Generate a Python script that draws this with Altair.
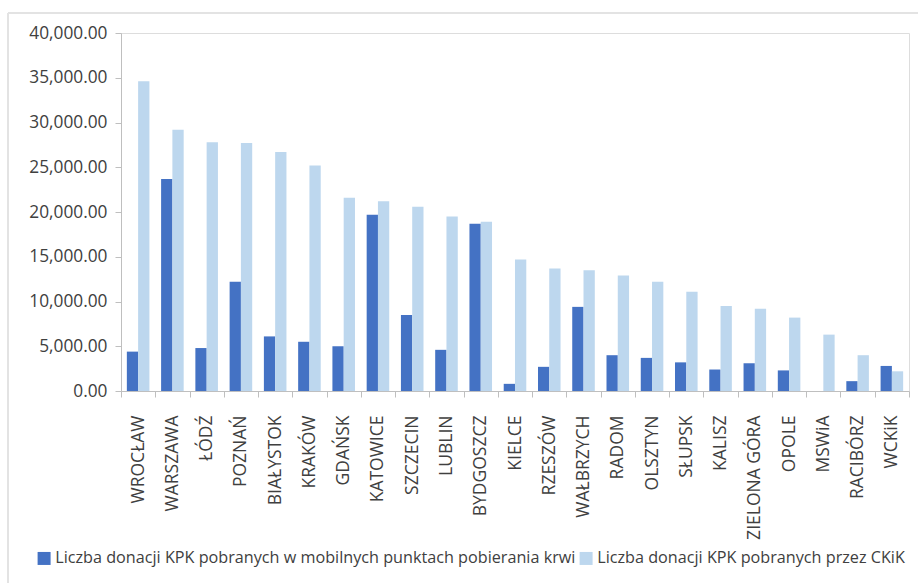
import altair as alt
import pandas as pd

# Regional blood centres, in display order
cities = [
    "WROCŁAW", "WARSZAWA", "ŁÓDŹ", "POZNAŃ", "BIAŁYSTOK", "KRAKÓW", "GDAŃSK",
    "KATOWICE", "SZCZECIN", "LUBLIN", "BYDGOSZCZ", "KIELCE", "RZESZÓW",
    "WAŁBRZYCH", "RADOM", "OLSZTYN", "SŁUPSK", "KALISZ", "ZIELONA GÓRA",
    "OPOLE", "MSWiA", "RACIBÓRZ", "WCKiK",
]

# Platelet (KPK) donations collected at mobile collection points
mobile = [
    4400, 23700, 4800, 12200, 6100, 5500, 5000, 19700, 8500, 4600, 18700,
    800, 2700, 9400, 4000, 3700, 3200, 2400, 3100, 2300, 0, 1100, 2800,
]

# Platelet (KPK) donations collected by the blood centre overall
centre = [
    34600, 29200, 27800, 27700, 26700, 25200, 21600, 21200, 20600, 19500,
    18900, 14700, 13700, 13500, 12900, 12200, 11100, 9500, 9200, 8200,
    6300, 4000, 2200,
]

series_names = [
    "Liczba donacji KPK pobranych w mobilnych punktach pobierania krwi",
    "Liczba donacji KPK pobranych przez CKiK",
]
series_colors = ["#4472C4", "#BDD7EE"]

rows = []
for city, m, c in zip(cities, mobile, centre):
    rows.append({"miasto": city, "seria": series_names[0], "wartosc": m})
    rows.append({"miasto": city, "seria": series_names[1], "wartosc": c})
df = pd.DataFrame(rows)

FONT = "Open Sans"
TEXT = "#404040"
AXIS = "#BFBFBF"

bars = alt.Chart(df).mark_bar(size=11.3).encode(
    x=alt.X(
        "miasto:N",
        sort=cities,
        scale=alt.Scale(paddingInner=0, paddingOuter=0),
        axis=alt.Axis(
            title=None,
            labelAngle=-90,
            labelAlign="right",
            labelBaseline="middle",
            labelFont=FONT,
            labelFontSize=17.5,
            labelColor=TEXT,
            labelPadding=18,
            tickBand="extent",
            tickSize=6,
            tickColor=AXIS,
            domainColor=AXIS,
            labelOverlap=False,
        ),
    ),
    xOffset=alt.XOffset(
        "seria:N",
        sort=series_names,
        scale=alt.Scale(paddingOuter=0.52, paddingInner=0),
    ),
    y=alt.Y(
        "wartosc:Q",
        scale=alt.Scale(domain=[0, 40000], nice=False),
        axis=alt.Axis(
            title=None,
            format=",.2f",
            values=list(range(0, 40001, 5000)),
            grid=False,
            labelFont=FONT,
            labelFontSize=17.3,
            labelColor=TEXT,
            labelPadding=8,
            tickSize=6,
            tickColor=AXIS,
            domainColor=AXIS,
        ),
    ),
    color=alt.Color(
        "seria:N",
        sort=series_names,
        scale=alt.Scale(domain=series_names, range=series_colors),
        legend=alt.Legend(
            title=None,
            orient="none",
            direction="horizontal",
            legendX=-85,
            legendY=517,
            symbolType="square",
            symbolSize=169,
            symbolStrokeWidth=0,
            labelFont=FONT,
            labelFontSize=16.2,
            labelColor=TEXT,
            labelOffset=3,
            columnPadding=2,
            labelLimit=800,
        ),
    ),
)

# Thin frame around the chart area (left and top edges)
frame_left = alt.Chart(df).mark_rule(color="#E3E3E3", strokeWidth=1.5).encode(
    x=alt.value(-113), y=alt.value(-20), y2=alt.value(560)
)
frame_top = alt.Chart(df).mark_rule(color="#E3E3E3", strokeWidth=1.5).encode(
    x=alt.value(-113), x2=alt.value(800), y=alt.value(-20)
)

chart = (
    alt.layer(frame_left, frame_top, bars)
    .properties(
        width=788,
        height=358,
        autosize=alt.AutoSizeParams(type="none"),
        padding={"left": 121, "top": 33, "right": 9, "bottom": 192},
    )
    .configure_view(stroke=None)
    .configure(background="white")
)

chart.save("out.html", embed_options={"renderer": "svg", "actions": False})
